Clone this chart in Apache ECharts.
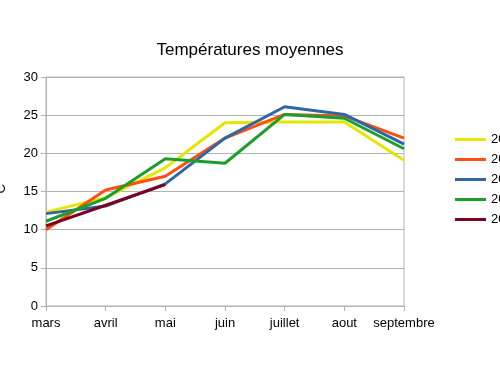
<!DOCTYPE html>
<html><head><meta charset="utf-8">
<script src="https://cdn.jsdelivr.net/npm/echarts@6/dist/echarts.min.js"></script>
<style>html,body{margin:0;padding:0;background:#fff}#c{width:500px;height:380px}</style>
</head><body><div id="c"></div>
<script>
const categories = ["mars","avril","mai","juin","juillet","aout","septembre"];
const seriesNames = ["2019","2020","2021","2022","2023"];
const s2019 = [12.3, 14.2, 18.1, 24.0, 24.1, 24.1, 19.1];
const s2020 = [10.0, 15.2, 17.0, 22.0, 25.1, 24.9, 22.0];
const s2021 = [12.1, 13.1, 16.0, 22.0, 26.1, 25.1, 21.2];
const s2022 = [11.1, 14.1, 19.3, 18.7, 25.1, 24.6, 20.6];
const s2023 = [10.5, 13.2, 15.9, null, null, null, null];
const yTicks = [0, 5, 10, 15, 20, 25, 30];
const colors = ["#e6e600", "#ff4e12", "#2f67a6", "#1b9e2b", "#7e0021"];
const allData = [s2019, s2020, s2021, s2022, s2023];

const chart = echarts.init(document.getElementById('c'), null, {renderer:'canvas'});
const font = "Liberation Sans";
chart.setOption({
  animation: false,
  title: { text: "Températures moyennes", left: 'center', top: 37,
    textStyle: { fontFamily: font, fontSize: 17, fontWeight: 'normal', color: '#000' } },
  legend: { orient: 'vertical', left: 450, top: 128, itemWidth: 31, itemHeight: 3, itemGap: 7,
    icon: 'rect', textStyle: { fontFamily: font, fontSize: 13, color: '#000' },
    data: seriesNames },
  grid: { left: 46, right: 96, top: 77, bottom: 74, containLabel: false, outerBoundsMode: 'none',
    show: true, borderColor: '#b3b3b3', borderWidth: 1 },
  xAxis: { type: 'category', data: categories, boundaryGap: false,
    axisLine: { lineStyle: { color: '#b3b3b3' } },
    axisTick: { show: true, length: 5, lineStyle: { color: '#b3b3b3' } },
    axisLabel: { fontFamily: font, fontSize: 13, color: '#000', margin: 11, interval: 0 },
    splitLine: { show: false } },
  yAxis: { type: 'value', min: yTicks[0], max: yTicks[yTicks.length-1], interval: 5,
    name: '°C', nameLocation: 'middle', nameGap: 38, nameRotate: 90,
    nameTextStyle: { fontFamily: font, fontSize: 13, color: '#000' },
    axisLine: { show: true, lineStyle: { color: '#b3b3b3' } },
    axisTick: { show: true, length: 5, lineStyle: { color: '#b3b3b3' } },
    axisLabel: { fontFamily: font, fontSize: 13, color: '#000', margin: 8 },
    splitLine: { lineStyle: { color: '#b3b3b3' } } },
  series: seriesNames.map((n, i) => ({
    name: n, type: 'line', data: allData[i], showSymbol: false, symbol: 'none',
    lineStyle: { width: 3, color: colors[i] }, itemStyle: { color: colors[i] }
  }))
});
</script></body></html>
